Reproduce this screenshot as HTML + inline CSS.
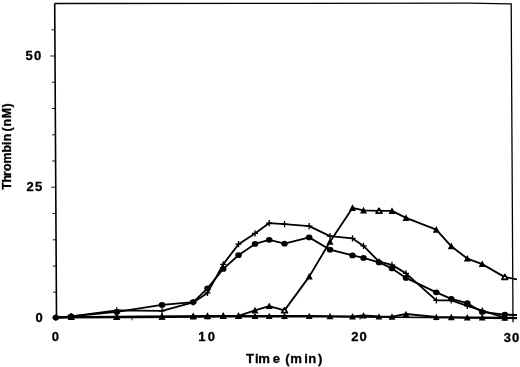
<!DOCTYPE html>
<html><head><meta charset="utf-8"><title>Thrombin vs Time</title>
<style>
html,body{margin:0;padding:0;background:#fff;}
body{width:520px;height:367px;overflow:hidden;position:relative;}
svg{position:absolute;left:0;top:0;display:block;}
text{font-family:"Liberation Sans",Arial,sans-serif;font-weight:bold;fill:#000;stroke:#000;stroke-width:0.3px;}
</style></head><body>
<svg width="520" height="367" viewBox="0 0 520 367">
<rect width="520" height="367" fill="#fff"/>
<g>
<path d="M54.7,3.5 L300,3.3 L468,3.2 L511.2,3.9 L513,322.2" fill="none" stroke="#000" stroke-width="1.3"/>
<path d="M54.7,3.5 L56.5,317.6 L140,317.5 L225,316.6 L320,316.6 L430,317.5 L517,318.4" fill="none" stroke="#000" stroke-width="1.6"/>
<path d="M53.0,292.2H56.4" stroke="#000" stroke-width="0.9"/>
<path d="M52.8,266.0H56.2" stroke="#000" stroke-width="0.9"/>
<path d="M52.7,239.8H56.1" stroke="#000" stroke-width="0.9"/>
<path d="M52.5,213.5H55.9" stroke="#000" stroke-width="0.9"/>
<path d="M51.2,187.2H55.8" stroke="#000" stroke-width="0.9"/>
<path d="M52.2,161.0H55.6" stroke="#000" stroke-width="0.9"/>
<path d="M52.1,134.8H55.5" stroke="#000" stroke-width="0.9"/>
<path d="M51.9,108.5H55.3" stroke="#000" stroke-width="0.9"/>
<path d="M51.8,82.2H55.2" stroke="#000" stroke-width="0.9"/>
<path d="M50.4,56.0H55.0" stroke="#000" stroke-width="0.9"/>
<path d="M51.5,29.8H54.9" stroke="#000" stroke-width="0.9"/>
<path d="M132.0,317.5V320.3" stroke="#000" stroke-width="0.9"/>
<path d="M208.0,316.8V319.6" stroke="#000" stroke-width="0.9"/>
<path d="M284.0,316.6V319.4" stroke="#000" stroke-width="0.9"/>
<path d="M360.0,316.9V319.7" stroke="#000" stroke-width="0.9"/>
<path d="M436.0,317.6V320.4" stroke="#000" stroke-width="0.9"/>
</g>
<g>
<polyline points="55.8,317.7 71.2,317.0 116.8,316.9 162.0,316.7 193.2,316.3 207.5,316.2 223.2,316.0 238.5,316.0 255.0,316.0 269.2,316.0 284.5,316.0 309.2,316.0 330.0,316.1 352.5,316.3 363.5,315.5 379.0,316.5 392.0,316.6 406.0,314.0 436.3,317.0 451.3,317.1 467.3,317.3 482.2,317.4 504.8,317.7 517,318" fill="none" stroke="#000" stroke-width="1.85" stroke-linejoin="round"/>
<polyline points="55.8,317.6 71.2,316.3 116.8,310.4 162.0,310.9 193.2,302.4 207.5,292.9 223.2,264.4 238.5,244.2 255.0,233.4 269.2,223.1 284.5,224.2 309.2,226.2 330.0,236.2 352.5,238.4 363.5,245.9 379.0,261.6 392.0,264.9 406.0,273.4 436.3,300.4 451.3,300.4 467.3,305.9 482.2,310.7 504.8,317.6 517,318.2" fill="none" stroke="#000" stroke-width="1.85" stroke-linejoin="round"/>
<polyline points="55.8,317.6 71.2,316.3 116.8,311.9 162.0,304.9 193.2,302.1 207.5,288.4 223.2,268.9 238.5,255.2 255.0,243.9 269.2,239.8 284.5,243.7 309.2,237.4 330.0,249.7 352.5,255.4 363.5,257.9 379.0,262.4 392.0,268.4 406.0,277.9 436.3,292.3 451.3,298.8 467.3,303.2 482.2,312.0 504.8,314.6 517,315" fill="none" stroke="#000" stroke-width="1.85" stroke-linejoin="round"/>
<polyline points="55.8,317.7 71.2,316.8 116.8,316.7 162.0,316.5 193.2,316.1 207.5,316.0 223.2,315.8 238.5,315.8 255.0,310.4 269.2,306.1 284.5,310.4 309.2,276.6 330.0,241.7 352.5,207.9 363.5,210.4 379.0,210.9 392.0,210.9 406.0,217.9 436.3,229.7 451.3,246.3 467.3,258.6 482.2,264.1 504.8,277.1 517,279.3" fill="none" stroke="#000" stroke-width="1.85" stroke-linejoin="round"/>
<path d="M67.8,320.1 L74.7,320.1 L71.2,313.7Z" fill="#000"/>
<path d="M113.3,320.0 L120.2,320.0 L116.8,313.6Z" fill="#000"/>
<path d="M158.6,319.8 L165.4,319.8 L162.0,313.4Z" fill="#000"/>
<path d="M189.8,319.4 L196.7,319.4 L193.2,313.0Z" fill="#000"/>
<path d="M204.1,319.3 L210.9,319.3 L207.5,312.9Z" fill="#000"/>
<path d="M219.8,319.1 L226.7,319.1 L223.2,312.7Z" fill="#000"/>
<path d="M235.1,319.1 L241.9,319.1 L238.5,312.7Z" fill="#000"/>
<path d="M251.6,319.1 L258.4,319.1 L255.0,312.7Z" fill="#000"/>
<path d="M265.9,319.1 L272.6,319.1 L269.2,312.7Z" fill="#000"/>
<path d="M281.1,319.1 L287.9,319.1 L284.5,312.7Z" fill="#000"/>
<path d="M305.9,319.1 L312.6,319.1 L309.2,312.7Z" fill="#000"/>
<path d="M326.6,319.2 L333.4,319.2 L330.0,312.8Z" fill="#000"/>
<path d="M349.1,319.4 L355.9,319.4 L352.5,313.0Z" fill="#000"/>
<path d="M360.1,318.6 L366.9,318.6 L363.5,312.2Z" fill="#000"/>
<path d="M375.6,319.6 L382.4,319.6 L379.0,313.2Z" fill="#000"/>
<path d="M388.6,319.7 L395.4,319.7 L392.0,313.3Z" fill="#000"/>
<path d="M402.6,317.1 L409.4,317.1 L406.0,310.7Z" fill="#000"/>
<path d="M432.9,320.1 L439.7,320.1 L436.3,313.7Z" fill="#000"/>
<path d="M447.9,320.2 L454.7,320.2 L451.3,313.8Z" fill="#000"/>
<path d="M463.9,320.4 L470.7,320.4 L467.3,314.0Z" fill="#000"/>
<path d="M478.8,320.5 L485.6,320.5 L482.2,314.1Z" fill="#000"/>
<path d="M501.4,320.8 L508.2,320.8 L504.8,314.4Z" fill="#000"/>
<path d="M52.7,317.6H58.9M55.8,314.5V320.7" stroke="#000" stroke-width="1.3" fill="none"/>
<path d="M68.2,316.3H74.3M71.2,313.2V319.4" stroke="#000" stroke-width="1.3" fill="none"/>
<path d="M113.7,310.4H119.8M116.8,307.3V313.5" stroke="#000" stroke-width="1.3" fill="none"/>
<path d="M158.9,310.9H165.1M162.0,307.8V314.0" stroke="#000" stroke-width="1.3" fill="none"/>
<path d="M190.2,302.4H196.3M193.2,299.3V305.5" stroke="#000" stroke-width="1.3" fill="none"/>
<path d="M204.4,292.9H210.6M207.5,289.8V296.0" stroke="#000" stroke-width="1.3" fill="none"/>
<path d="M220.2,264.4H226.3M223.2,261.3V267.5" stroke="#000" stroke-width="1.3" fill="none"/>
<path d="M235.4,244.2H241.6M238.5,241.1V247.2" stroke="#000" stroke-width="1.3" fill="none"/>
<path d="M251.9,233.4H258.1M255.0,230.3V236.5" stroke="#000" stroke-width="1.3" fill="none"/>
<path d="M266.1,223.1H272.4M269.2,220.0V226.2" stroke="#000" stroke-width="1.3" fill="none"/>
<path d="M281.4,224.2H287.6M284.5,221.1V227.2" stroke="#000" stroke-width="1.3" fill="none"/>
<path d="M306.1,226.2H312.4M309.2,223.1V229.2" stroke="#000" stroke-width="1.3" fill="none"/>
<path d="M326.9,236.2H333.1M330.0,233.1V239.2" stroke="#000" stroke-width="1.3" fill="none"/>
<path d="M349.4,238.4H355.6M352.5,235.3V241.5" stroke="#000" stroke-width="1.3" fill="none"/>
<path d="M360.4,245.9H366.6M363.5,242.8V249.0" stroke="#000" stroke-width="1.3" fill="none"/>
<path d="M375.9,261.6H382.1M379.0,258.5V264.8" stroke="#000" stroke-width="1.3" fill="none"/>
<path d="M388.9,264.9H395.1M392.0,261.8V268.0" stroke="#000" stroke-width="1.3" fill="none"/>
<path d="M402.9,273.4H409.1M406.0,270.3V276.5" stroke="#000" stroke-width="1.3" fill="none"/>
<path d="M433.2,300.4H439.4M436.3,297.3V303.5" stroke="#000" stroke-width="1.3" fill="none"/>
<path d="M448.2,300.4H454.4M451.3,297.3V303.5" stroke="#000" stroke-width="1.3" fill="none"/>
<path d="M464.2,305.9H470.4M467.3,302.8V309.0" stroke="#000" stroke-width="1.3" fill="none"/>
<path d="M479.1,310.7H485.3M482.2,307.6V313.8" stroke="#000" stroke-width="1.3" fill="none"/>
<path d="M501.7,317.6H507.9M504.8,314.5V320.7" stroke="#000" stroke-width="1.3" fill="none"/>
<ellipse cx="55.8" cy="317.6" rx="3.25" ry="2.85" fill="#000"/>
<ellipse cx="71.2" cy="316.3" rx="3.25" ry="2.85" fill="#000"/>
<ellipse cx="116.8" cy="311.9" rx="3.25" ry="2.85" fill="#000"/>
<ellipse cx="162.0" cy="304.9" rx="3.25" ry="2.85" fill="#000"/>
<ellipse cx="193.2" cy="302.1" rx="3.25" ry="2.85" fill="#000"/>
<ellipse cx="207.5" cy="288.4" rx="3.25" ry="2.85" fill="#000"/>
<ellipse cx="223.2" cy="268.9" rx="3.25" ry="2.85" fill="#000"/>
<ellipse cx="238.5" cy="255.2" rx="3.25" ry="2.85" fill="#000"/>
<ellipse cx="255.0" cy="243.9" rx="3.25" ry="2.85" fill="#000"/>
<ellipse cx="269.2" cy="239.8" rx="3.25" ry="2.85" fill="#000"/>
<ellipse cx="284.5" cy="243.7" rx="3.25" ry="2.85" fill="#000"/>
<ellipse cx="309.2" cy="237.4" rx="3.25" ry="2.85" fill="#000"/>
<ellipse cx="330.0" cy="249.7" rx="3.25" ry="2.85" fill="#000"/>
<ellipse cx="352.5" cy="255.4" rx="3.25" ry="2.85" fill="#000"/>
<ellipse cx="363.5" cy="257.9" rx="3.25" ry="2.85" fill="#000"/>
<ellipse cx="379.0" cy="262.4" rx="3.25" ry="2.85" fill="#000"/>
<ellipse cx="392.0" cy="268.4" rx="3.25" ry="2.85" fill="#000"/>
<ellipse cx="406.0" cy="277.9" rx="3.25" ry="2.85" fill="#000"/>
<ellipse cx="436.3" cy="292.3" rx="3.25" ry="2.85" fill="#000"/>
<ellipse cx="451.3" cy="298.8" rx="3.25" ry="2.85" fill="#000"/>
<ellipse cx="467.3" cy="303.2" rx="3.25" ry="2.85" fill="#000"/>
<ellipse cx="482.2" cy="312.0" rx="3.25" ry="2.85" fill="#000"/>
<ellipse cx="504.8" cy="314.6" rx="3.25" ry="2.85" fill="#000"/>
<path d="M67.8,319.8 L74.8,319.8 L71.2,313.1Z" fill="#000"/>
<path d="M113.2,319.7 L120.2,319.7 L116.8,313.0Z" fill="#000"/>
<path d="M158.5,319.5 L165.5,319.5 L162.0,312.8Z" fill="#000"/>
<path d="M189.8,319.1 L196.8,319.1 L193.2,312.4Z" fill="#000"/>
<path d="M204.0,319.0 L211.0,319.0 L207.5,312.3Z" fill="#000"/>
<path d="M219.8,318.8 L226.8,318.8 L223.2,312.1Z" fill="#000"/>
<path d="M235.0,318.8 L242.0,318.8 L238.5,312.1Z" fill="#000"/>
<path d="M251.5,313.4 L258.5,313.4 L255.0,306.7Z" fill="#000"/>
<path d="M265.8,309.1 L272.8,309.1 L269.2,302.4Z" fill="#000"/>
<path d="M281.6,312.7 L287.4,312.7 L284.5,307.8Z" fill="#fff" stroke="#000" stroke-width="1.7" stroke-linejoin="round"/>
<path d="M305.8,279.6 L312.8,279.6 L309.2,272.9Z" fill="#000"/>
<path d="M326.5,244.7 L333.5,244.7 L330.0,238.0Z" fill="#000"/>
<path d="M349.0,210.9 L356.0,210.9 L352.5,204.2Z" fill="#000"/>
<path d="M360.0,213.4 L367.0,213.4 L363.5,206.7Z" fill="#000"/>
<path d="M376.1,213.2 L381.9,213.2 L379.0,208.3Z" fill="#fff" stroke="#000" stroke-width="1.7" stroke-linejoin="round"/>
<path d="M388.5,213.9 L395.5,213.9 L392.0,207.2Z" fill="#000"/>
<path d="M402.5,220.9 L409.5,220.9 L406.0,214.2Z" fill="#000"/>
<path d="M432.8,232.7 L439.8,232.7 L436.3,226.0Z" fill="#000"/>
<path d="M447.8,249.3 L454.8,249.3 L451.3,242.6Z" fill="#000"/>
<path d="M463.8,261.6 L470.8,261.6 L467.3,254.9Z" fill="#000"/>
<path d="M478.7,267.1 L485.7,267.1 L482.2,260.4Z" fill="#000"/>
<path d="M501.9,279.4 L507.7,279.4 L504.8,274.5Z" fill="#fff" stroke="#000" stroke-width="1.7" stroke-linejoin="round"/>
</g>
<g>
<text x="25.62 34.09" y="60.2" font-size="13">50</text>
<text x="26.42 35.02" y="190.8" font-size="13">25</text>
<text x="35.39" y="322.2" font-size="13">0</text>
<text x="51.64" y="341.4" font-size="13">0</text>
<text x="198.26 207.74" y="340.6" font-size="13">10</text>
<text x="351.17 359.54" y="340.6" font-size="13">20</text>
<text x="503.67 511.94" y="341.9" font-size="13">30</text>
<text x="245.90 255.04 258.35 272.68 280.01 285.35 290.30 304.14 308.32 317.89" y="362.6" font-size="13.1" stroke-width="0.1">Time (min)</text>
<text transform="translate(11.4,0) rotate(-90)" font-size="12.3" stroke-width="0.1" x="-189.66 -182.55 -176.11 -171.01 -163.54 -152.56 -145.10 -141.33 -135.46 -131.60 -126.43 -118.22 -107.50" y="0">Thrombin (nM)</text>
</g>
</svg>
</body></html>
